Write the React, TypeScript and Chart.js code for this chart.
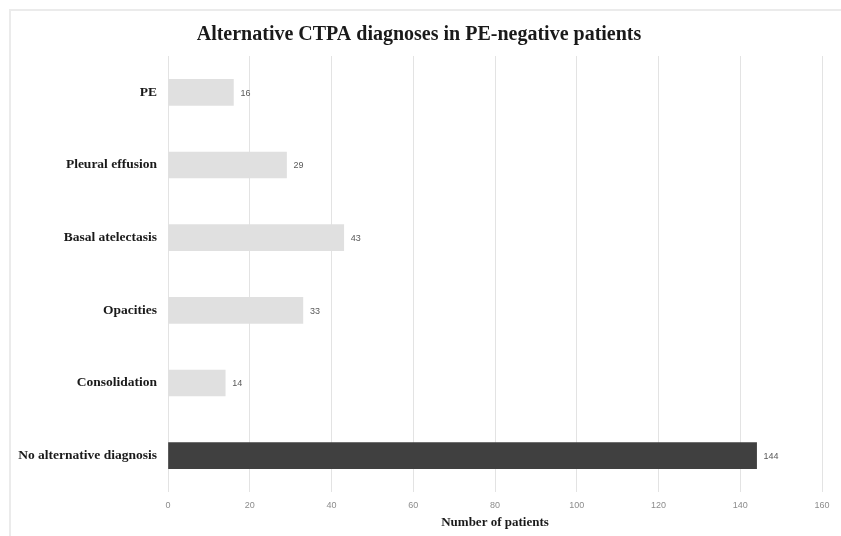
import React, { useEffect, useRef } from "react";
import { Chart, registerables } from "chart.js";

Chart.register(...registerables);

const chartTitle = "Alternative CTPA diagnoses in PE-negative patients";
const axisTitle = "Number of patients";
const categories = [
  "PE",
  "Pleural effusion",
  "Basal atelectasis",
  "Opacities",
  "Consolidation",
  "No alternative diagnosis",
];
const patientCounts = [16, 29, 43, 33, 14, 144];
const barColors = ["#e0e0e0", "#e0e0e0", "#e0e0e0", "#e0e0e0", "#e0e0e0", "#404040"];
const xMin = 0;
const xMax = 160;
const xStep = 20;

const framePlugin = {
  id: "frame",
  beforeDraw(chart: any) {
    const ctx = chart.ctx;
    ctx.save();
    ctx.fillStyle = "#ffffff";
    ctx.fillRect(0, 0, chart.width, chart.height);
    ctx.strokeStyle = "#ebebeb";
    ctx.lineWidth = 2;
    ctx.beginPath();
    ctx.moveTo(10, chart.height);
    ctx.lineTo(10, 10);
    ctx.lineTo(chart.width, 10);
    ctx.stroke();
    ctx.restore();
  },
};

const valueLabelPlugin = {
  id: "valueLabels",
  afterDatasetsDraw(chart: any) {
    const ctx = chart.ctx;
    const meta = chart.getDatasetMeta(0);
    ctx.save();
    ctx.font = "9px 'Liberation Sans', Arial, sans-serif";
    ctx.fillStyle = "#595959";
    ctx.textAlign = "left";
    ctx.textBaseline = "middle";
    meta.data.forEach((bar: any, i: number) => {
      ctx.fillText(String(patientCounts[i]), bar.x + 7, bar.y + 1);
    });
    ctx.restore();
  },
};

export default function App() {
  const canvasRef = useRef<HTMLCanvasElement | null>(null);

  useEffect(() => {
    if (!canvasRef.current) return;
    const chart = new Chart(canvasRef.current, {
      type: "bar",
      data: {
        labels: categories,
        datasets: [
          {
            data: patientCounts,
            backgroundColor: barColors,
            borderWidth: 0,
            barThickness: 26,
          },
        ],
      },
      options: {
        indexAxis: "y",
        responsive: false,
        animation: false,
        layout: { padding: { left: 16, right: 19, top: 0, bottom: 0 } },
        plugins: {
          legend: { display: false },
          tooltip: { enabled: false },
          title: {
            display: true,
            text: chartTitle,
            color: "#1a1a1a",
            font: { family: "'Liberation Serif', 'Times New Roman', serif", size: 20, weight: "bold" },
            padding: { top: 23, bottom: 9 },
          },
        },
        scales: {
          x: {
            min: xMin,
            max: xMax,
            ticks: {
              stepSize: xStep,
              color: "#8c8c8c",
              padding: 8,
              font: { family: "'Liberation Sans', Arial, sans-serif", size: 9 },
            },
            grid: { color: "#e3e3e3", lineWidth: 1, drawTicks: false },
            border: { display: false },
            title: {
              display: true,
              text: axisTitle,
              color: "#1a1a1a",
              font: { family: "'Liberation Serif', 'Times New Roman', serif", size: 13, weight: "bold" },
              padding: { top: 4, bottom: 6 },
            },
            afterFit(scale: any) {
              scale.height = 44;
            },
          },
          y: {
            ticks: {
              color: "#1a1a1a",
              padding: 11,
              font: { family: "'Liberation Serif', 'Times New Roman', serif", size: 13.5, weight: "bold" },
            },
            grid: { display: false, drawTicks: false },
            border: { display: false },
            afterFit(scale: any) {
              scale.width = 152;
            },
          },
        },
      },
      plugins: [framePlugin, valueLabelPlugin],
    });
    return () => chart.destroy();
  }, []);

  return (
    <div style={{ position: "absolute", left: 0, top: 0, width: 841, height: 536 }}>
      <canvas ref={canvasRef} width={841} height={536} style={{ width: 841, height: 536 }} />
    </div>
  );
}
